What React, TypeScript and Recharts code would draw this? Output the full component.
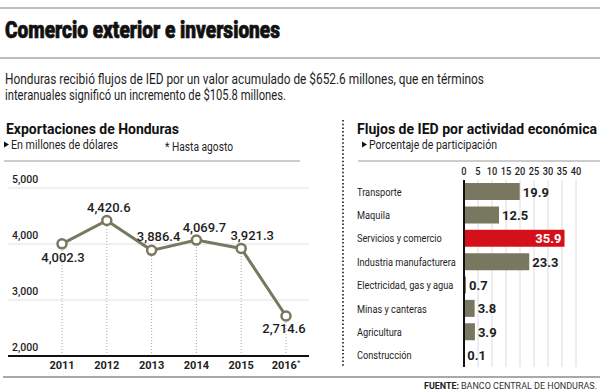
import React from 'react';
import {
  LineChart, Line, XAxis, YAxis, CartesianGrid, ReferenceLine, LabelList,
  BarChart, Bar, Cell,
} from 'recharts';

// ---------- data ----------
const years = ['2011', '2012', '2013', '2014', '2015', '2016'];
const exportValues = [4002.3, 4420.6, 3886.4, 4069.7, 3921.3, 2714.6];
const exportTicks = [2000, 3000, 4000, 5000];
const partialYear = '2016';

const sectors = [
  'Transporte', 'Maquila', 'Servicios y comercio', 'Industria manufacturera',
  'Electricidad, gas y agua', 'Minas y canteras', 'Agricultura', 'Construcción',
];
const shares = [19.9, 12.5, 35.9, 23.3, 0.7, 3.8, 3.9, 0.1];
const shareTicks = [0, 5, 10, 15, 20, 25, 30, 35, 40];
const highlightedSector = 'Servicios y comercio';

const lineData = years.map((year, i) => ({ year, value: exportValues[i] }));
const barData = sectors.map((name, i) => ({ name, value: shares[i] }));

// ---------- styles ----------
const FONT = 'Roboto, "Open Sans", sans-serif';
const OLIVE = '#78775f';
const RED = '#d4111b';
const INK = '#1e1e1e';

const fmt = (v: number) =>
  v.toLocaleString('en-US', { minimumFractionDigits: 1, maximumFractionDigits: 1 });

// label placement relative to each point: [dx, dy(baseline)]
const labelPlacement: [number, number][] = [
  [1, 18], [2, -8], [7, -9], [8, -8], [11, -8], [-2, 17],
];

const ExportLabel = (props: any) => {
  const { x, y, value, index } = props;
  const [dx, dy] = labelPlacement[index] || [0, -8];
  return (
    <text x={x + dx} y={y + dy} textAnchor="middle" fontFamily={FONT} fontSize={13}
      fill={INK} fontWeight={500}>
      {fmt(value)}
    </text>
  );
};

const YearTick = (props: any) => {
  const { x, payload } = props;
  const partial = payload.value === partialYear;
  return (
    <text x={x} y={199} textAnchor="middle" fontFamily={FONT} fontSize={11}
      fontWeight={700} fill={INK}>
      {payload.value}
      {partial ? <tspan dy={-4} fontSize={8} fontWeight={400}>*</tspan> : null}
    </text>
  );
};

const ExportYTick = (props: any) => {
  const { y, payload } = props;
  return (
    <text x={12} y={y - 5} textAnchor="start" fontFamily={FONT} fontSize={10.5}
      fontWeight={500} fill={INK}>
      {Number(payload.value).toLocaleString('en-US')}
    </text>
  );
};

const ShareTick = (props: any) => {
  const { x, payload } = props;
  return (
    <text transform={`translate(${x}, 25) scale(0.88, 1)`} textAnchor="middle"
      fontFamily={FONT} fontSize={10.5} fontWeight={500} fill={INK}>
      {payload.value}
    </text>
  );
};

const SectorTick = (props: any) => {
  const { y, payload } = props;
  return (
    <text transform={`translate(57, ${y + 4}) scale(0.84, 1)`} textAnchor="start"
      fontFamily={FONT} fontSize={11} fill={INK}>
      {payload.value}
    </text>
  );
};

const ShareLabel = (props: any) => {
  const { x, y, width, height, value, index } = props;
  const isHi = sectors[index] === highlightedSector;
  const cy = y + height / 2 + 5;
  if (isHi) {
    return (
      <text x={x + width - 3} y={cy} textAnchor="end" fontFamily={FONT} fontSize={13}
        fontWeight={700} fill="#fff">
        {value.toFixed(1)}
      </text>
    );
  }
  return (
    <text x={x + width + 3} y={cy} textAnchor="start" fontFamily={FONT} fontSize={13}
      fontWeight={700} fill={INK}>
      {value.toFixed(1)}
    </text>
  );
};

export default function App() {
  return (
    <div style={{ position: 'absolute', left: 0, top: 0, width: 600, height: 392, background: '#fff', overflow: 'hidden' }}>
      <svg width={600} height={392} style={{ position: 'absolute', left: 0, top: 0 }}>
        {/* rules */}
        <line x1={0} x2={600} y1={8} y2={8} stroke="#a8a8a8" strokeWidth={1.5} />
        <line x1={0} x2={600} y1={58} y2={58} stroke="#a8a8a8" strokeWidth={1.5} />
        <line x1={4} x2={300} y1={161} y2={161} stroke="#9a9a9a" strokeWidth={1.2} />
        <line x1={358} x2={600} y1={161} y2={161} stroke="#9a9a9a" strokeWidth={1.2} />
        <line x1={3} x2={600} y1={377} y2={377} stroke="#555" strokeWidth={1.2} />
        <line x1={343} x2={343} y1={120} y2={368} stroke="#444" strokeWidth={2} strokeDasharray="1.5 2.2" />

        {/* title */}
        <text x={5} y={38} fontFamily={FONT} fontSize={24} fontWeight={900} fill="#111"
          stroke="#111" strokeWidth={0.7}
          textLength={275} lengthAdjust="spacingAndGlyphs">
          Comercio exterior e inversiones
        </text>
        <text x={5} y={84} fontFamily={FONT} fontSize={14.5} fill={INK}
          textLength={479} lengthAdjust="spacingAndGlyphs">
          Honduras recibió flujos de IED por un valor acumulado de $652.6 millones, que en términos
        </text>
        <text x={5} y={100} fontFamily={FONT} fontSize={14.5} fill={INK}
          textLength={281} lengthAdjust="spacingAndGlyphs">
          interanuales significó un incremento de $105.8 millones.
        </text>

        {/* left heading */}
        <text x={6} y={134} fontFamily={FONT} fontSize={15} fontWeight={700} fill="#111"
          textLength={173} lengthAdjust="spacingAndGlyphs">
          Exportaciones de Honduras
        </text>
        <polygon points="4,141.5 9,144.5 4,147.5" fill="#111" />
        <text x={11} y={149} fontFamily={FONT} fontSize={12} fill={INK}
          textLength={107} lengthAdjust="spacingAndGlyphs">
          En millones de dólares
        </text>
        <text x={165} y={151} fontFamily={FONT} fontSize={12} fill={INK}
          textLength={68} lengthAdjust="spacingAndGlyphs">
          * Hasta agosto
        </text>

        {/* right heading */}
        <text x={357} y={133.5} fontFamily={FONT} fontSize={14} fontWeight={700} fill="#111"
          textLength={240} lengthAdjust="spacingAndGlyphs">
          Flujos de IED por actividad económica
        </text>
        <polygon points="362,141.5 367,144.5 362,147.5" fill="#111" />
        <text x={369} y={149} fontFamily={FONT} fontSize={12} fill={INK}
          textLength={128} lengthAdjust="spacingAndGlyphs">
          Porcentaje de participación
        </text>

        {/* source */}
        <text x={424} y={389} fontFamily={FONT} fontSize={9.5} fontWeight={700} fill="#222"
          textLength={35} lengthAdjust="spacingAndGlyphs">
          FUENTE:
        </text>
        <text x={461} y={389} fontFamily={FONT} fontSize={9.5} fill="#333"
          textLength={136} lengthAdjust="spacingAndGlyphs">
          BANCO CENTRAL DE HONDURAS.
        </text>
      </svg>

      <div style={{ position: 'absolute', left: 0, top: 170 }}>
        <LineChart width={320} height={210} data={lineData}
          margin={{ top: 18, right: 11, bottom: 0, left: 0 }}>
          <CartesianGrid vertical={false} stroke="#e2e2e2" strokeWidth={1.2} />
          <XAxis dataKey="year" scale="point" padding={{ left: 54, right: 23 }} height={24}
            axisLine={{ stroke: '#111', strokeWidth: 2 }} tickLine={false} tick={<YearTick />}
            interval={0} />
          <YAxis type="number" domain={[2000, 5000]} ticks={exportTicks} width={8} interval={0}
            axisLine={false} tickLine={false} tick={<ExportYTick />} />
          {lineData.map((d) => (
            <ReferenceLine key={d.year}
              segment={[{ x: d.year, y: 2000 }, { x: d.year, y: d.value }]}
              stroke="#a9a9a9" strokeWidth={1} strokeDasharray="1 2" />
          ))}
          <Line dataKey="value" stroke={OLIVE} strokeWidth={3} isAnimationActive={false}
            dot={{ r: 4.5, fill: '#fff', stroke: OLIVE, strokeWidth: 2.5 }}>
            <LabelList dataKey="value" content={<ExportLabel />} />
          </Line>
        </LineChart>
      </div>

      <div style={{ position: 'absolute', left: 300, top: 150 }}>
        <BarChart width={300} height={230} data={barData} layout="vertical"
          margin={{ top: 14, right: 24, bottom: 13, left: 0 }}>
          <CartesianGrid horizontal={false} stroke="#dcdcdc" />
          <XAxis type="number" orientation="top" domain={[0, 40]} ticks={shareTicks} height={16}
            axisLine={false} tickLine={false} tick={<ShareTick />} interval={0} />
          <YAxis type="category" dataKey="name" width={164} interval={0}
            axisLine={{ stroke: '#111', strokeWidth: 2 }} tickLine={false} tick={<SectorTick />} />
          <Bar dataKey="value" barSize={17} fill={OLIVE} isAnimationActive={false}>
            {barData.map((d) => (
              <Cell key={d.name} fill={d.name === highlightedSector ? RED : OLIVE} />
            ))}
            <LabelList dataKey="value" content={<ShareLabel />} />
          </Bar>
        </BarChart>
      </div>
    </div>
  );
}
